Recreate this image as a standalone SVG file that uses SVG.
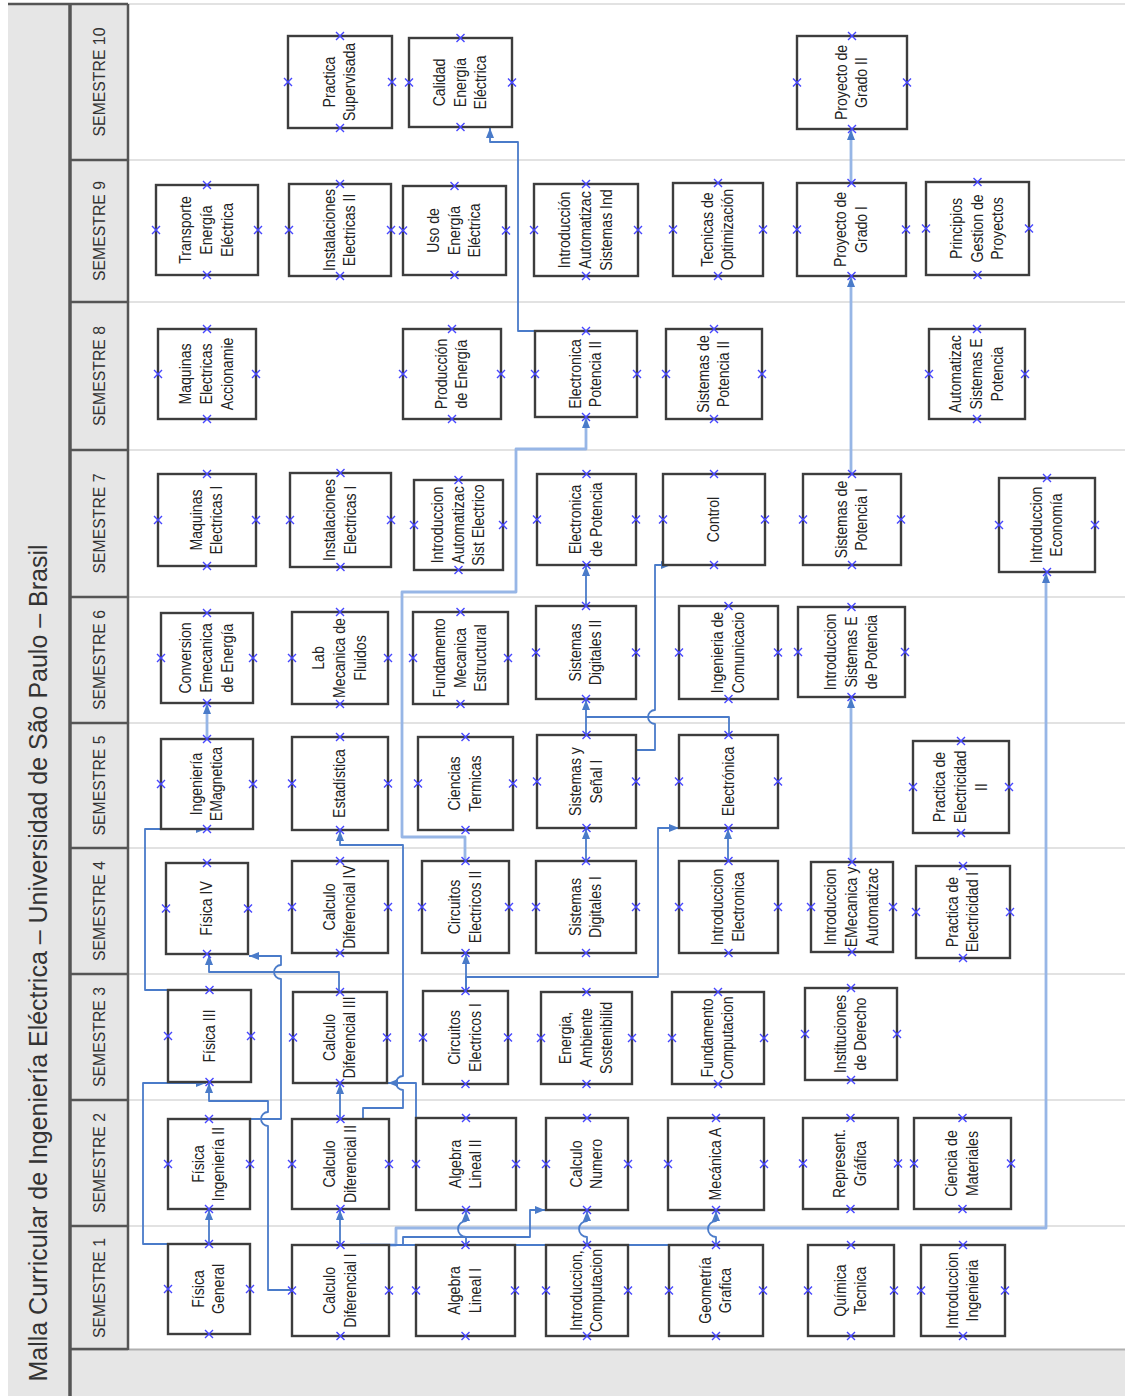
<svg xmlns="http://www.w3.org/2000/svg" xmlns:xlink="http://www.w3.org/1999/xlink" width="1125" height="1396" viewBox="0 0 1125 1396">
<style>
.nd rect{fill:#fff;stroke:#3d3d3d;stroke-width:2.4}
.nd text{font-family:"Liberation Sans",Arial,sans-serif;font-size:16px;fill:#222;text-anchor:middle}
.lane{stroke:#e2e2e2;stroke-width:2}
.hd{stroke:#555;stroke-width:2.5}
.sem{font-family:"Liberation Sans",Arial,sans-serif;font-size:17px;fill:#333;text-anchor:middle}
.c{fill:none;stroke:#4a7bc9;stroke-width:1.8;stroke-linejoin:round}
.cl{fill:none;stroke:#97b6e6;stroke-width:2.8;stroke-linejoin:round}
.ar{marker-end:url(#ah)}
</style>
<defs>
<marker id="ah" viewBox="0 0 10 8" refX="10" refY="4" markerWidth="10" markerHeight="8" markerUnits="userSpaceOnUse" orient="auto"><path d="M0,0L10,4L0,8z" fill="#4a7bc9"/></marker>
<path id="xm" d="M-4,-4L4,4M-4,4L4,-4" stroke="#4646ff" stroke-width="1.4" fill="none"/>
</defs>
<rect x="0" y="0" width="1125" height="1396" fill="#fff"/>
<g id="frame">
<rect x="8" y="4" width="62" height="1392" fill="#e6e6e6"/>
<rect x="70" y="4" width="58" height="1346" fill="#e6e6e6"/>
<rect x="70" y="1350" width="1055" height="46" fill="#e6e6e6"/>
<line x1="70" y1="1349.5" x2="1125" y2="1349.5" stroke="#b0b0b0" stroke-width="2"/>
<g class="lane">
<line x1="128" y1="4" x2="1125" y2="4"/>
<line x1="128" y1="160" x2="1125" y2="160"/>
<line x1="128" y1="302" x2="1125" y2="302"/>
<line x1="128" y1="450" x2="1125" y2="450"/>
<line x1="128" y1="597" x2="1125" y2="597"/>
<line x1="128" y1="723" x2="1125" y2="723"/>
<line x1="128" y1="848" x2="1125" y2="848"/>
<line x1="128" y1="974" x2="1125" y2="974"/>
<line x1="128" y1="1100" x2="1125" y2="1100"/>
<line x1="128" y1="1226" x2="1125" y2="1226"/>
</g>
<g class="hd">
<line x1="8" y1="4" x2="128" y2="4"/>
<line x1="128" y1="4" x2="128" y2="1350"/>
<line x1="70" y1="160" x2="128" y2="160"/>
<line x1="70" y1="302" x2="128" y2="302"/>
<line x1="70" y1="450" x2="128" y2="450"/>
<line x1="70" y1="597" x2="128" y2="597"/>
<line x1="70" y1="723" x2="128" y2="723"/>
<line x1="70" y1="848" x2="128" y2="848"/>
<line x1="70" y1="974" x2="128" y2="974"/>
<line x1="70" y1="1100" x2="128" y2="1100"/>
<line x1="70" y1="1226" x2="128" y2="1226"/>
<line x1="70" y1="1349" x2="128" y2="1349"/>
</g>
<line x1="70" y1="4" x2="70" y2="1396" stroke="#555" stroke-width="3.5"/>
<text transform="translate(47 963) rotate(-90)" font-family="'Liberation Sans',Arial,sans-serif" font-size="26" fill="#333" text-anchor="middle" textLength="837" lengthAdjust="spacingAndGlyphs">Malla Curricular de Ingeniería Eléctrica – Universidad de São Paulo – Brasil</text>
<g class="sem">
<text transform="translate(105 82) rotate(-90) scale(0.93 1)">SEMESTRE 10</text>
<text transform="translate(105 231) rotate(-90) scale(0.93 1)">SEMESTRE 9</text>
<text transform="translate(105 376) rotate(-90) scale(0.93 1)">SEMESTRE 8</text>
<text transform="translate(105 523.5) rotate(-90) scale(0.93 1)">SEMESTRE 7</text>
<text transform="translate(105 660) rotate(-90) scale(0.93 1)">SEMESTRE 6</text>
<text transform="translate(105 785.5) rotate(-90) scale(0.93 1)">SEMESTRE 5</text>
<text transform="translate(105 911) rotate(-90) scale(0.93 1)">SEMESTRE 4</text>
<text transform="translate(105 1037) rotate(-90) scale(0.93 1)">SEMESTRE 3</text>
<text transform="translate(105 1163) rotate(-90) scale(0.93 1)">SEMESTRE 2</text>
<text transform="translate(105 1288) rotate(-90) scale(0.93 1)">SEMESTRE 1</text>
</g>
</g>
<g id="connectors">
<path class="c ar" d="M209,1244V1210"/>
<path class="c ar" d="M209,1244H143V1083H206"/>
<path class="c ar" d="M292,1290H268V1126A7,7 0 0 1 268,1112V1101H209V1083"/>
<path class="c ar" d="M250,1119H281V979A7,7 0 0 1 281,965V956H249"/>
<path class="c ar" d="M340,1245V1210"/>
<path class="c ar" d="M340,1119V1084"/>
<path class="c ar" d="M339,992V972H209V955"/>
<path class="c ar" d="M363,1119V1108H403V1090A7,7 0 0 1 403,1076V845H340V831"/>
<path class="c ar" d="M416,1130V1083H388"/>
<path class="c ar" d="M170,990H145V829H206"/>
<path class="c ar" d="M466,991V954"/>
<path class="c ar" d="M466,991V977H658V828H679"/>
<path class="cl ar" d="M465,861V837H402V592H516V449H586V418"/>
<path class="c ar" d="M586,861V829"/>
<path class="c ar" d="M728,861V829"/>
<path class="c ar" d="M586,735V700"/>
<path class="c" d="M729,735V717H586"/>
<path class="c ar" d="M636,750H655V724A7,7 0 0 1 655,710V565H671"/>
<path class="c ar" d="M586,606V566"/>
<path class="cl ar" d="M207,739V704"/>
<path class="c ar" d="M535,331H518V142H490V128"/>
<path class="cl ar" d="M851,474V277"/>
<path class="cl ar" d="M851,183V130"/>
<path class="cl ar" d="M851,862V698"/>
<path class="cl ar" d="M360,1245H396V1228H1046V573"/>
<path class="c ar" d="M389,1245H403V1237H530V1210H545"/>
<path class="c" d="M403,1245H716"/>
<path class="c ar" d="M466,1245V1237A8,8 0 0 1 466,1221V1211"/>
<path class="c ar" d="M587,1245V1237A8,8 0 0 1 587,1221V1211"/>
<path class="c ar" d="M716,1245V1237A8,8 0 0 1 716,1221V1211"/>
</g>
<g id="nodes" class="nd">
<g id="practica-supervisada"><rect x="288" y="36" width="104" height="92"/><text transform="translate(340 82) rotate(-90) scale(0.88 1)"><tspan x="0" y="-5.5">Practica</tspan><tspan x="0" y="15.5">Supervisada</tspan></text><use href="#xm" x="340" y="36"/><use href="#xm" x="340" y="128"/><use href="#xm" x="288" y="82"/><use href="#xm" x="392" y="82"/></g>
<g id="calidad-energia"><rect x="409" y="38" width="103" height="89"/><text transform="translate(460.5 82.5) rotate(-90) scale(0.88 1)"><tspan x="0" y="-16">Calidad</tspan><tspan x="0" y="5">Energía</tspan><tspan x="0" y="26">Eléctrica</tspan></text><use href="#xm" x="460.5" y="38"/><use href="#xm" x="460.5" y="127"/><use href="#xm" x="409" y="82.5"/><use href="#xm" x="512" y="82.5"/></g>
<g id="proyecto-grado-2"><rect x="797" y="36" width="110" height="93"/><text transform="translate(852 82.5) rotate(-90) scale(0.88 1)"><tspan x="0" y="-5.5">Proyecto de</tspan><tspan x="0" y="15.5">Grado II</tspan></text><use href="#xm" x="852" y="36"/><use href="#xm" x="852" y="129"/><use href="#xm" x="797" y="82.5"/><use href="#xm" x="907" y="82.5"/></g>

<g id="transporte-energia"><rect x="156" y="185" width="102" height="90"/><text transform="translate(207 230) rotate(-90) scale(0.88 1)"><tspan x="0" y="-16">Transporte</tspan><tspan x="0" y="5">Energía</tspan><tspan x="0" y="26">Eléctrica</tspan></text><use href="#xm" x="207" y="185"/><use href="#xm" x="207" y="275"/><use href="#xm" x="156" y="230"/><use href="#xm" x="258" y="230"/></g>
<g id="instalaciones-2"><rect x="289" y="184" width="102" height="92"/><text transform="translate(340 230) rotate(-90) scale(0.88 1)"><tspan x="0" y="-5.5">Instalaciones</tspan><tspan x="0" y="15.5">Electricas II</tspan></text><use href="#xm" x="340" y="184"/><use href="#xm" x="340" y="276"/><use href="#xm" x="289" y="230"/><use href="#xm" x="391" y="230"/></g>
<g id="uso-energia"><rect x="403" y="186" width="103" height="89"/><text transform="translate(454.5 230.5) rotate(-90) scale(0.88 1)"><tspan x="0" y="-16">Uso de</tspan><tspan x="0" y="5">Energía</tspan><tspan x="0" y="26">Eléctrica</tspan></text><use href="#xm" x="454.5" y="186"/><use href="#xm" x="454.5" y="275"/><use href="#xm" x="403" y="230.5"/><use href="#xm" x="506" y="230.5"/></g>
<g id="intro-automatizac-ind"><rect x="534" y="184" width="104" height="92"/><text transform="translate(586 230) rotate(-90) scale(0.88 1)"><tspan x="0" y="-16">Introducción</tspan><tspan x="0" y="5">Automatizac</tspan><tspan x="0" y="26">Sistemas Ind</tspan></text><use href="#xm" x="586" y="184"/><use href="#xm" x="586" y="276"/><use href="#xm" x="534" y="230"/><use href="#xm" x="638" y="230"/></g>
<g id="tecnicas-optimizacion"><rect x="673" y="183" width="90" height="93"/><text transform="translate(718 229.5) rotate(-90) scale(0.88 1)"><tspan x="0" y="-5.5">Tecnicas de</tspan><tspan x="0" y="15.5">Optimización</tspan></text><use href="#xm" x="718" y="183"/><use href="#xm" x="718" y="276"/><use href="#xm" x="673" y="229.5"/><use href="#xm" x="763" y="229.5"/></g>
<g id="proyecto-grado-1"><rect x="797" y="183" width="109" height="93"/><text transform="translate(851.5 229.5) rotate(-90) scale(0.88 1)"><tspan x="0" y="-5.5">Proyecto de</tspan><tspan x="0" y="15.5">Grado I</tspan></text><use href="#xm" x="851.5" y="183"/><use href="#xm" x="851.5" y="276"/><use href="#xm" x="797" y="229.5"/><use href="#xm" x="906" y="229.5"/></g>
<g id="principios-gestion"><rect x="926" y="182" width="103" height="93"/><text transform="translate(977.5 228.5) rotate(-90) scale(0.88 1)"><tspan x="0" y="-16">Principios</tspan><tspan x="0" y="5">Gestion de</tspan><tspan x="0" y="26">Proyectos</tspan></text><use href="#xm" x="977.5" y="182"/><use href="#xm" x="977.5" y="275"/><use href="#xm" x="926" y="228.5"/><use href="#xm" x="1029" y="228.5"/></g>

<g id="maquinas-accionamiento"><rect x="158" y="329" width="98" height="90"/><text transform="translate(207 374) rotate(-90) scale(0.88 1)"><tspan x="0" y="-16">Maquinas</tspan><tspan x="0" y="5">Electricas</tspan><tspan x="0" y="26">Accionamie</tspan></text><use href="#xm" x="207" y="329"/><use href="#xm" x="207" y="419"/><use href="#xm" x="158" y="374"/><use href="#xm" x="256" y="374"/></g>
<g id="produccion-energia"><rect x="403" y="329" width="98" height="90"/><text transform="translate(452 374) rotate(-90) scale(0.88 1)"><tspan x="0" y="-5.5">Producción</tspan><tspan x="0" y="15.5">de Energía</tspan></text><use href="#xm" x="452" y="329"/><use href="#xm" x="452" y="419"/><use href="#xm" x="403" y="374"/><use href="#xm" x="501" y="374"/></g>
<g id="electronica-potencia-2"><rect x="535" y="331" width="102" height="86"/><text transform="translate(586 374) rotate(-90) scale(0.88 1)"><tspan x="0" y="-5.5">Electronica</tspan><tspan x="0" y="15.5">Potencia II</tspan></text><use href="#xm" x="586" y="331"/><use href="#xm" x="586" y="417"/><use href="#xm" x="535" y="374"/><use href="#xm" x="637" y="374"/></g>
<g id="sistemas-potencia-2"><rect x="666" y="329" width="96" height="90"/><text transform="translate(714 374) rotate(-90) scale(0.88 1)"><tspan x="0" y="-5.5">Sistemas de</tspan><tspan x="0" y="15.5">Potencia II</tspan></text><use href="#xm" x="714" y="329"/><use href="#xm" x="714" y="419"/><use href="#xm" x="666" y="374"/><use href="#xm" x="762" y="374"/></g>
<g id="automatizac-sistemas-e"><rect x="929" y="329" width="96" height="90"/><text transform="translate(977 374) rotate(-90) scale(0.88 1)"><tspan x="0" y="-16">Automatizac</tspan><tspan x="0" y="5">Sistemas E</tspan><tspan x="0" y="26">Potencia</tspan></text><use href="#xm" x="977" y="329"/><use href="#xm" x="977" y="419"/><use href="#xm" x="929" y="374"/><use href="#xm" x="1025" y="374"/></g>

<g id="maquinas-1"><rect x="158" y="474" width="98" height="92"/><text transform="translate(207 520) rotate(-90) scale(0.88 1)"><tspan x="0" y="-5.5">Maquinas</tspan><tspan x="0" y="15.5">Electricas I</tspan></text><use href="#xm" x="207" y="474"/><use href="#xm" x="207" y="566"/><use href="#xm" x="158" y="520"/><use href="#xm" x="256" y="520"/></g>
<g id="instalaciones-1"><rect x="290" y="473" width="101" height="94"/><text transform="translate(340.5 520) rotate(-90) scale(0.88 1)"><tspan x="0" y="-5.5">Instalaciones</tspan><tspan x="0" y="15.5">Electricas I</tspan></text><use href="#xm" x="340.5" y="473"/><use href="#xm" x="340.5" y="567"/><use href="#xm" x="290" y="520"/><use href="#xm" x="391" y="520"/></g>
<g id="intro-automatizac-sist"><rect x="414" y="480" width="89" height="90"/><text transform="translate(458.5 525) rotate(-90) scale(0.88 1)"><tspan x="0" y="-16">Introduccion</tspan><tspan x="0" y="5">Automatizac</tspan><tspan x="0" y="26">Sist Electrico</tspan></text><use href="#xm" x="458.5" y="480"/><use href="#xm" x="458.5" y="570"/><use href="#xm" x="414" y="525"/><use href="#xm" x="503" y="525"/></g>
<g id="electronica-de-potencia"><rect x="537" y="474" width="99" height="91"/><text transform="translate(586.5 519.5) rotate(-90) scale(0.88 1)"><tspan x="0" y="-5.5">Electronica</tspan><tspan x="0" y="15.5">de Potencia</tspan></text><use href="#xm" x="586.5" y="474"/><use href="#xm" x="586.5" y="565"/><use href="#xm" x="537" y="519.5"/><use href="#xm" x="636" y="519.5"/></g>
<g id="control"><rect x="663" y="474" width="102" height="91"/><text transform="translate(714 519.5) rotate(-90) scale(0.88 1)"><tspan x="0" y="5">Control</tspan></text><use href="#xm" x="714" y="474"/><use href="#xm" x="714" y="565"/><use href="#xm" x="663" y="519.5"/><use href="#xm" x="765" y="519.5"/></g>
<g id="sistemas-potencia-1"><rect x="803" y="474" width="98" height="91"/><text transform="translate(852 519.5) rotate(-90) scale(0.88 1)"><tspan x="0" y="-5.5">Sistemas de</tspan><tspan x="0" y="15.5">Potencia I</tspan></text><use href="#xm" x="852" y="474"/><use href="#xm" x="852" y="565"/><use href="#xm" x="803" y="519.5"/><use href="#xm" x="901" y="519.5"/></g>
<g id="intro-economia"><rect x="999" y="478" width="96" height="94"/><text transform="translate(1047 525) rotate(-90) scale(0.88 1)"><tspan x="0" y="-5.5">Introduccion</tspan><tspan x="0" y="15.5">Economía</tspan></text><use href="#xm" x="1047" y="478"/><use href="#xm" x="1047" y="572"/><use href="#xm" x="999" y="525"/><use href="#xm" x="1095" y="525"/></g>

<g id="conversion-emecanica"><rect x="161" y="613" width="92" height="90"/><text transform="translate(207 658) rotate(-90) scale(0.88 1)"><tspan x="0" y="-16">Conversion</tspan><tspan x="0" y="5">Emecanica</tspan><tspan x="0" y="26">de Energía</tspan></text><use href="#xm" x="207" y="613"/><use href="#xm" x="207" y="703"/><use href="#xm" x="161" y="658"/><use href="#xm" x="253" y="658"/></g>
<g id="lab-mecanica-fluidos"><rect x="292" y="612" width="96" height="92"/><text transform="translate(340 658) rotate(-90) scale(0.88 1)"><tspan x="0" y="-16">Lab</tspan><tspan x="0" y="5">Mecanica de</tspan><tspan x="0" y="26">Fluidos</tspan></text><use href="#xm" x="340" y="612"/><use href="#xm" x="340" y="704"/><use href="#xm" x="292" y="658"/><use href="#xm" x="388" y="658"/></g>
<g id="fundamento-mecanica"><rect x="413" y="612" width="95" height="92"/><text transform="translate(460.5 658) rotate(-90) scale(0.88 1)"><tspan x="0" y="-16">Fundamento</tspan><tspan x="0" y="5">Mecanica</tspan><tspan x="0" y="26">Estructural</tspan></text><use href="#xm" x="460.5" y="612"/><use href="#xm" x="460.5" y="704"/><use href="#xm" x="413" y="658"/><use href="#xm" x="508" y="658"/></g>
<g id="sistemas-digitales-2"><rect x="536" y="606" width="100" height="93"/><text transform="translate(586 652.5) rotate(-90) scale(0.88 1)"><tspan x="0" y="-5.5">Sistemas</tspan><tspan x="0" y="15.5">Digitales II</tspan></text><use href="#xm" x="586" y="606"/><use href="#xm" x="586" y="699"/><use href="#xm" x="536" y="652.5"/><use href="#xm" x="636" y="652.5"/></g>
<g id="ingenieria-comunicacion"><rect x="679" y="606" width="99" height="93"/><text transform="translate(728.5 652.5) rotate(-90) scale(0.88 1)"><tspan x="0" y="-5.5">Ingenieria de</tspan><tspan x="0" y="15.5">Comunicacio</tspan></text><use href="#xm" x="728.5" y="606"/><use href="#xm" x="728.5" y="699"/><use href="#xm" x="679" y="652.5"/><use href="#xm" x="778" y="652.5"/></g>
<g id="intro-sistemas-e-potencia"><rect x="798" y="607" width="107" height="90"/><text transform="translate(851.5 652) rotate(-90) scale(0.88 1)"><tspan x="0" y="-16">Introduccion</tspan><tspan x="0" y="5">Sistemas E</tspan><tspan x="0" y="26">de Potencia</tspan></text><use href="#xm" x="851.5" y="607"/><use href="#xm" x="851.5" y="697"/><use href="#xm" x="798" y="652"/><use href="#xm" x="905" y="652"/></g>

<g id="ingenieria-emagnetica"><rect x="161" y="739" width="92" height="90"/><text transform="translate(207 784) rotate(-90) scale(0.88 1)"><tspan x="0" y="-5.5">Ingeniería</tspan><tspan x="0" y="15.5">EMagnetica</tspan></text><use href="#xm" x="207" y="739"/><use href="#xm" x="207" y="829"/><use href="#xm" x="161" y="784"/><use href="#xm" x="253" y="784"/></g>
<g id="estadistica"><rect x="292" y="737" width="96" height="93"/><text transform="translate(340 783.5) rotate(-90) scale(0.88 1)"><tspan x="0" y="5">Estadística</tspan></text><use href="#xm" x="340" y="737"/><use href="#xm" x="340" y="830"/><use href="#xm" x="292" y="783.5"/><use href="#xm" x="388" y="783.5"/></g>
<g id="ciencias-termicas"><rect x="418" y="737" width="95" height="93"/><text transform="translate(465.5 783.5) rotate(-90) scale(0.88 1)"><tspan x="0" y="-5.5">Ciencias</tspan><tspan x="0" y="15.5">Termicas</tspan></text><use href="#xm" x="465.5" y="737"/><use href="#xm" x="465.5" y="830"/><use href="#xm" x="418" y="783.5"/><use href="#xm" x="513" y="783.5"/></g>
<g id="sistemas-senal-1"><rect x="537" y="735" width="99" height="93"/><text transform="translate(586.5 781.5) rotate(-90) scale(0.88 1)"><tspan x="0" y="-5.5">Sistemas y</tspan><tspan x="0" y="15.5">Señal I</tspan></text><use href="#xm" x="586.5" y="735"/><use href="#xm" x="586.5" y="828"/><use href="#xm" x="537" y="781.5"/><use href="#xm" x="636" y="781.5"/></g>
<g id="electronica"><rect x="679" y="735" width="99" height="93"/><text transform="translate(728.5 781.5) rotate(-90) scale(0.88 1)"><tspan x="0" y="5">Electrónica</tspan></text><use href="#xm" x="728.5" y="735"/><use href="#xm" x="728.5" y="828"/><use href="#xm" x="679" y="781.5"/><use href="#xm" x="778" y="781.5"/></g>
<g id="practica-electricidad-2"><rect x="913" y="741" width="96" height="92"/><text transform="translate(961 787) rotate(-90) scale(0.88 1)"><tspan x="0" y="-16">Practica de</tspan><tspan x="0" y="5">Electricidad</tspan><tspan x="0" y="26">II</tspan></text><use href="#xm" x="961" y="741"/><use href="#xm" x="961" y="833"/><use href="#xm" x="913" y="787"/><use href="#xm" x="1009" y="787"/></g>

<g id="fisica-4"><rect x="166" y="863" width="82" height="91"/><text transform="translate(207 908.5) rotate(-90) scale(0.88 1)"><tspan x="0" y="5">Física IV</tspan></text><use href="#xm" x="207" y="863"/><use href="#xm" x="207" y="954"/><use href="#xm" x="166" y="908.5"/><use href="#xm" x="248" y="908.5"/></g>
<g id="calculo-diferencial-4"><rect x="292" y="861" width="96" height="92"/><text transform="translate(340 907) rotate(-90) scale(0.88 1)"><tspan x="0" y="-5.5">Calculo</tspan><tspan x="0" y="15.5">Diferencial IV</tspan></text><use href="#xm" x="340" y="861"/><use href="#xm" x="340" y="953"/><use href="#xm" x="292" y="907"/><use href="#xm" x="388" y="907"/></g>
<g id="circuitos-2"><rect x="422" y="861" width="87" height="92"/><text transform="translate(465.5 907) rotate(-90) scale(0.88 1)"><tspan x="0" y="-5.5">Circuitos</tspan><tspan x="0" y="15.5">Electricos II</tspan></text><use href="#xm" x="465.5" y="861"/><use href="#xm" x="465.5" y="953"/><use href="#xm" x="422" y="907"/><use href="#xm" x="509" y="907"/></g>
<g id="sistemas-digitales-1"><rect x="536" y="861" width="100" height="92"/><text transform="translate(586 907) rotate(-90) scale(0.88 1)"><tspan x="0" y="-5.5">Sistemas</tspan><tspan x="0" y="15.5">Digitales I</tspan></text><use href="#xm" x="586" y="861"/><use href="#xm" x="586" y="953"/><use href="#xm" x="536" y="907"/><use href="#xm" x="636" y="907"/></g>
<g id="intro-electronica"><rect x="679" y="861" width="99" height="92"/><text transform="translate(728.5 907) rotate(-90) scale(0.88 1)"><tspan x="0" y="-5.5">Introduccion</tspan><tspan x="0" y="15.5">Electronica</tspan></text><use href="#xm" x="728.5" y="861"/><use href="#xm" x="728.5" y="953"/><use href="#xm" x="679" y="907"/><use href="#xm" x="778" y="907"/></g>
<g id="intro-emecanica"><rect x="811" y="862" width="82" height="90"/><text transform="translate(852 907) rotate(-90) scale(0.88 1)"><tspan x="0" y="-16">Introduccion</tspan><tspan x="0" y="5">EMecanica y</tspan><tspan x="0" y="26">Automatizac</tspan></text><use href="#xm" x="852" y="862"/><use href="#xm" x="852" y="952"/><use href="#xm" x="811" y="907"/><use href="#xm" x="893" y="907"/></g>
<g id="practica-electricidad-1"><rect x="916" y="866" width="94" height="92"/><text transform="translate(963 912) rotate(-90) scale(0.88 1)"><tspan x="0" y="-5.5">Practica de</tspan><tspan x="0" y="15.5">Electricidad I</tspan></text><use href="#xm" x="963" y="866"/><use href="#xm" x="963" y="958"/><use href="#xm" x="916" y="912"/><use href="#xm" x="1010" y="912"/></g>

<g id="fisica-3"><rect x="168" y="990" width="83" height="92"/><text transform="translate(209.5 1036) rotate(-90) scale(0.88 1)"><tspan x="0" y="5">Física III</tspan></text><use href="#xm" x="209.5" y="990"/><use href="#xm" x="209.5" y="1082"/><use href="#xm" x="168" y="1036"/><use href="#xm" x="251" y="1036"/></g>
<g id="calculo-diferencial-3"><rect x="293" y="992" width="94" height="91"/><text transform="translate(340 1037.5) rotate(-90) scale(0.88 1)"><tspan x="0" y="-5.5">Calculo</tspan><tspan x="0" y="15.5">Diferencial III</tspan></text><use href="#xm" x="340" y="992"/><use href="#xm" x="340" y="1083"/><use href="#xm" x="293" y="1037.5"/><use href="#xm" x="387" y="1037.5"/></g>
<g id="circuitos-1"><rect x="423" y="991" width="85" height="93"/><text transform="translate(465.5 1037.5) rotate(-90) scale(0.88 1)"><tspan x="0" y="-5.5">Circuitos</tspan><tspan x="0" y="15.5">Electricos I</tspan></text><use href="#xm" x="465.5" y="991"/><use href="#xm" x="465.5" y="1084"/><use href="#xm" x="423" y="1037.5"/><use href="#xm" x="508" y="1037.5"/></g>
<g id="energia-ambiente"><rect x="541" y="992" width="91" height="92"/><text transform="translate(586.5 1038) rotate(-90) scale(0.88 1)"><tspan x="0" y="-16">Energia,</tspan><tspan x="0" y="5">Ambiente</tspan><tspan x="0" y="26">Sostenibilid</tspan></text><use href="#xm" x="586.5" y="992"/><use href="#xm" x="586.5" y="1084"/><use href="#xm" x="541" y="1038"/><use href="#xm" x="632" y="1038"/></g>
<g id="fundamento-computacion"><rect x="672" y="992" width="92" height="92"/><text transform="translate(718 1038) rotate(-90) scale(0.88 1)"><tspan x="0" y="-5.5">Fundamento</tspan><tspan x="0" y="15.5">Computacion</tspan></text><use href="#xm" x="718" y="992"/><use href="#xm" x="718" y="1084"/><use href="#xm" x="672" y="1038"/><use href="#xm" x="764" y="1038"/></g>
<g id="instituciones-derecho"><rect x="805" y="988" width="92" height="92"/><text transform="translate(851 1034) rotate(-90) scale(0.88 1)"><tspan x="0" y="-5.5">Instituciones</tspan><tspan x="0" y="15.5">de Derecho</tspan></text><use href="#xm" x="851" y="988"/><use href="#xm" x="851" y="1080"/><use href="#xm" x="805" y="1034"/><use href="#xm" x="897" y="1034"/></g>

<g id="fisica-ingenieria-2"><rect x="168" y="1119" width="82" height="90"/><text transform="translate(209 1164) rotate(-90) scale(0.88 1)"><tspan x="0" y="-5.5">Física</tspan><tspan x="0" y="15.5">Ingeniería II</tspan></text><use href="#xm" x="209" y="1119"/><use href="#xm" x="209" y="1209"/><use href="#xm" x="168" y="1164"/><use href="#xm" x="250" y="1164"/></g>
<g id="calculo-diferencial-2"><rect x="292" y="1119" width="97" height="90"/><text transform="translate(340.5 1164) rotate(-90) scale(0.88 1)"><tspan x="0" y="-5.5">Calculo</tspan><tspan x="0" y="15.5">Diferencial II</tspan></text><use href="#xm" x="340.5" y="1119"/><use href="#xm" x="340.5" y="1209"/><use href="#xm" x="292" y="1164"/><use href="#xm" x="389" y="1164"/></g>
<g id="algebra-lineal-2"><rect x="416" y="1118" width="100" height="92"/><text transform="translate(466 1164) rotate(-90) scale(0.88 1)"><tspan x="0" y="-5.5">Algebra</tspan><tspan x="0" y="15.5">Lineal II</tspan></text><use href="#xm" x="466" y="1118"/><use href="#xm" x="466" y="1210"/><use href="#xm" x="416" y="1164"/><use href="#xm" x="516" y="1164"/></g>
<g id="calculo-numero"><rect x="546" y="1118" width="82" height="92"/><text transform="translate(587 1164) rotate(-90) scale(0.88 1)"><tspan x="0" y="-5.5">Calculo</tspan><tspan x="0" y="15.5">Numero</tspan></text><use href="#xm" x="587" y="1118"/><use href="#xm" x="587" y="1210"/><use href="#xm" x="546" y="1164"/><use href="#xm" x="628" y="1164"/></g>
<g id="mecanica-a"><rect x="668" y="1118" width="96" height="92"/><text transform="translate(716 1164) rotate(-90) scale(0.88 1)"><tspan x="0" y="5">Mecánica  A</tspan></text><use href="#xm" x="716" y="1118"/><use href="#xm" x="716" y="1210"/><use href="#xm" x="668" y="1164"/><use href="#xm" x="764" y="1164"/></g>
<g id="represent-grafica"><rect x="803" y="1118" width="95" height="91"/><text transform="translate(850.5 1163.5) rotate(-90) scale(0.88 1)"><tspan x="0" y="-5.5">Represent.</tspan><tspan x="0" y="15.5">Gráfica</tspan></text><use href="#xm" x="850.5" y="1118"/><use href="#xm" x="850.5" y="1209"/><use href="#xm" x="803" y="1163.5"/><use href="#xm" x="898" y="1163.5"/></g>
<g id="ciencia-materiales"><rect x="914" y="1118" width="97" height="91"/><text transform="translate(962.5 1163.5) rotate(-90) scale(0.88 1)"><tspan x="0" y="-5.5">Ciencia de</tspan><tspan x="0" y="15.5">Materiales</tspan></text><use href="#xm" x="962.5" y="1118"/><use href="#xm" x="962.5" y="1209"/><use href="#xm" x="914" y="1163.5"/><use href="#xm" x="1011" y="1163.5"/></g>

<g id="fisica-general"><rect x="168" y="1244" width="82" height="90"/><text transform="translate(209 1289) rotate(-90) scale(0.88 1)"><tspan x="0" y="-5.5">Física</tspan><tspan x="0" y="15.5">General</tspan></text><use href="#xm" x="209" y="1244"/><use href="#xm" x="209" y="1334"/><use href="#xm" x="168" y="1289"/><use href="#xm" x="250" y="1289"/></g>
<g id="calculo-diferencial-1"><rect x="292" y="1245" width="97" height="91"/><text transform="translate(340.5 1290.5) rotate(-90) scale(0.88 1)"><tspan x="0" y="-5.5">Calculo</tspan><tspan x="0" y="15.5">Diferencial I</tspan></text><use href="#xm" x="340.5" y="1245"/><use href="#xm" x="340.5" y="1336"/><use href="#xm" x="292" y="1290.5"/><use href="#xm" x="389" y="1290.5"/></g>
<g id="algebra-lineal-1"><rect x="416" y="1245" width="99" height="91"/><text transform="translate(465.5 1290.5) rotate(-90) scale(0.88 1)"><tspan x="0" y="-5.5">Algebra</tspan><tspan x="0" y="15.5">Lineal I</tspan></text><use href="#xm" x="465.5" y="1245"/><use href="#xm" x="465.5" y="1336"/><use href="#xm" x="416" y="1290.5"/><use href="#xm" x="515" y="1290.5"/></g>
<g id="intro-computacion"><rect x="546" y="1245" width="82" height="91"/><text transform="translate(587 1290.5) rotate(-90) scale(0.88 1)"><tspan x="0" y="-5.5">Introduccion,</tspan><tspan x="0" y="15.5">Computacion</tspan></text><use href="#xm" x="587" y="1245"/><use href="#xm" x="587" y="1336"/><use href="#xm" x="546" y="1290.5"/><use href="#xm" x="628" y="1290.5"/></g>
<g id="geometria-grafica"><rect x="669" y="1245" width="94" height="91"/><text transform="translate(716 1290.5) rotate(-90) scale(0.88 1)"><tspan x="0" y="-5.5">Geometría</tspan><tspan x="0" y="15.5">Grafica</tspan></text><use href="#xm" x="716" y="1245"/><use href="#xm" x="716" y="1336"/><use href="#xm" x="669" y="1290.5"/><use href="#xm" x="763" y="1290.5"/></g>
<g id="quimica-tecnica"><rect x="808" y="1245" width="86" height="91"/><text transform="translate(851 1290.5) rotate(-90) scale(0.88 1)"><tspan x="0" y="-5.5">Química</tspan><tspan x="0" y="15.5">Tecnica</tspan></text><use href="#xm" x="851" y="1245"/><use href="#xm" x="851" y="1336"/><use href="#xm" x="808" y="1290.5"/><use href="#xm" x="894" y="1290.5"/></g>
<g id="intro-ingenieria"><rect x="921" y="1245" width="84" height="91"/><text transform="translate(963 1290.5) rotate(-90) scale(0.88 1)"><tspan x="0" y="-5.5">Introduccion</tspan><tspan x="0" y="15.5">Ingenieria</tspan></text><use href="#xm" x="963" y="1245"/><use href="#xm" x="963" y="1336"/><use href="#xm" x="921" y="1290.5"/><use href="#xm" x="1005" y="1290.5"/></g>
</g>
</svg>
